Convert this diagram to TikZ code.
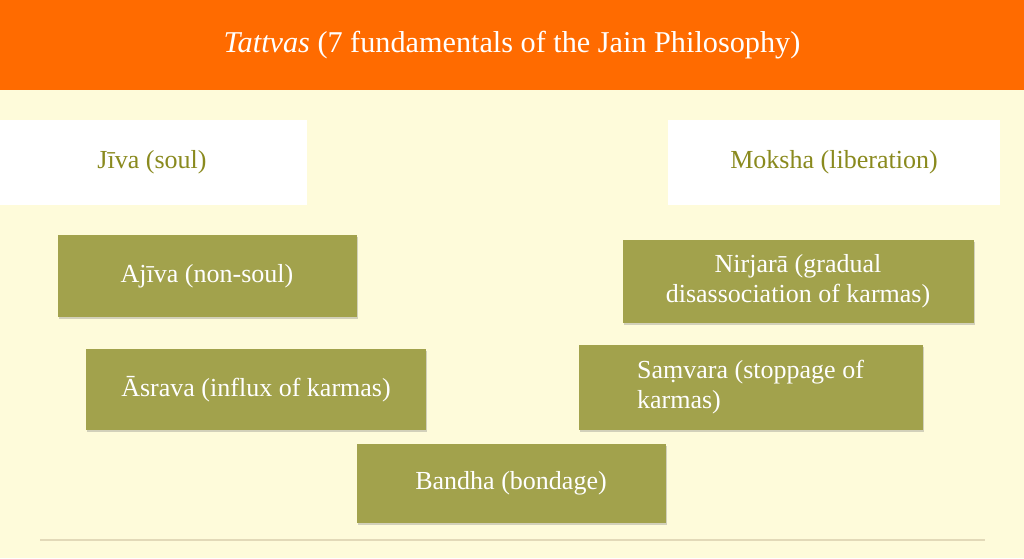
\documentclass[tikz,border=0pt]{standalone}
\usepackage{fontspec}
\setmainfont{Liberation Serif}
\usetikzlibrary{shadows}
\definecolor{cream}{HTML}{FEFBDA}
\definecolor{headorange}{HTML}{FF6B00}
\definecolor{olivebox}{HTML}{A2A24C}
\definecolor{olivetext}{HTML}{8A8A1E}
\definecolor{rulecol}{HTML}{E2D9B8}
\begin{document}
\begin{tikzpicture}[
        x=0.025cm, y=-0.025cm,
        tattva/.style={fill=olivebox, text=white, align=center, inner sep=0pt,
            font=\fontsize{18.5}{21.5}\selectfont,
            drop shadow={shadow xshift=1pt, shadow yshift=-1.5pt, opacity=0.35}}
    ]
        % Fondo y cabecera
        \fill[cream] (0,0) rectangle (1024,558);
        \fill[headorange] (0,0) rectangle (1024,90);
        \node[text=white, font=\fontsize{21.5}{25}\selectfont] (title) at (512,45)
            {\textit{Tattvas} (7 fundamentals of the Jain Philosophy)};

        % Extremos
        \fill[white] (0,120) rectangle (307,205);
        \node[text=olivetext, font=\fontsize{18.5}{21.5}\selectfont] (jiva) at (152,162) {Jīva (soul)};
        \fill[white] (668,120) rectangle (1000,205);
        \node[text=olivetext, font=\fontsize{18.5}{21.5}\selectfont] (moksha) at (834,162) {Moksha (liberation)};

        % Tattvas
        \node[tattva, minimum width=299*0.025cm, minimum height=82*0.025cm] (ajiva) at (207,276) {Ajīva (non-soul)};
        \node[tattva, minimum width=351*0.025cm, minimum height=83*0.025cm] (nirjara) at (798,281)
            {Nirjarā (gradual\\disassociation of karmas)};
        \node[tattva, minimum width=340*0.025cm, minimum height=81*0.025cm] (asrava) at (256,389) {Āsrava (influx of karmas)};
        \node[tattva, minimum width=344*0.025cm, minimum height=85*0.025cm, align=left] (samvara) at (751,387)
            {Saṃvara (stoppage of\\karmas)\hspace*{3.6cm}};
        \node[tattva, minimum width=309*0.025cm, minimum height=79*0.025cm] (bandha) at (511,483) {Bandha (bondage)};

        % Linea inferior
        \draw[rulecol, line width=1.5pt] (40,540) -- (985,540);
\end{tikzpicture}
\end{document}
